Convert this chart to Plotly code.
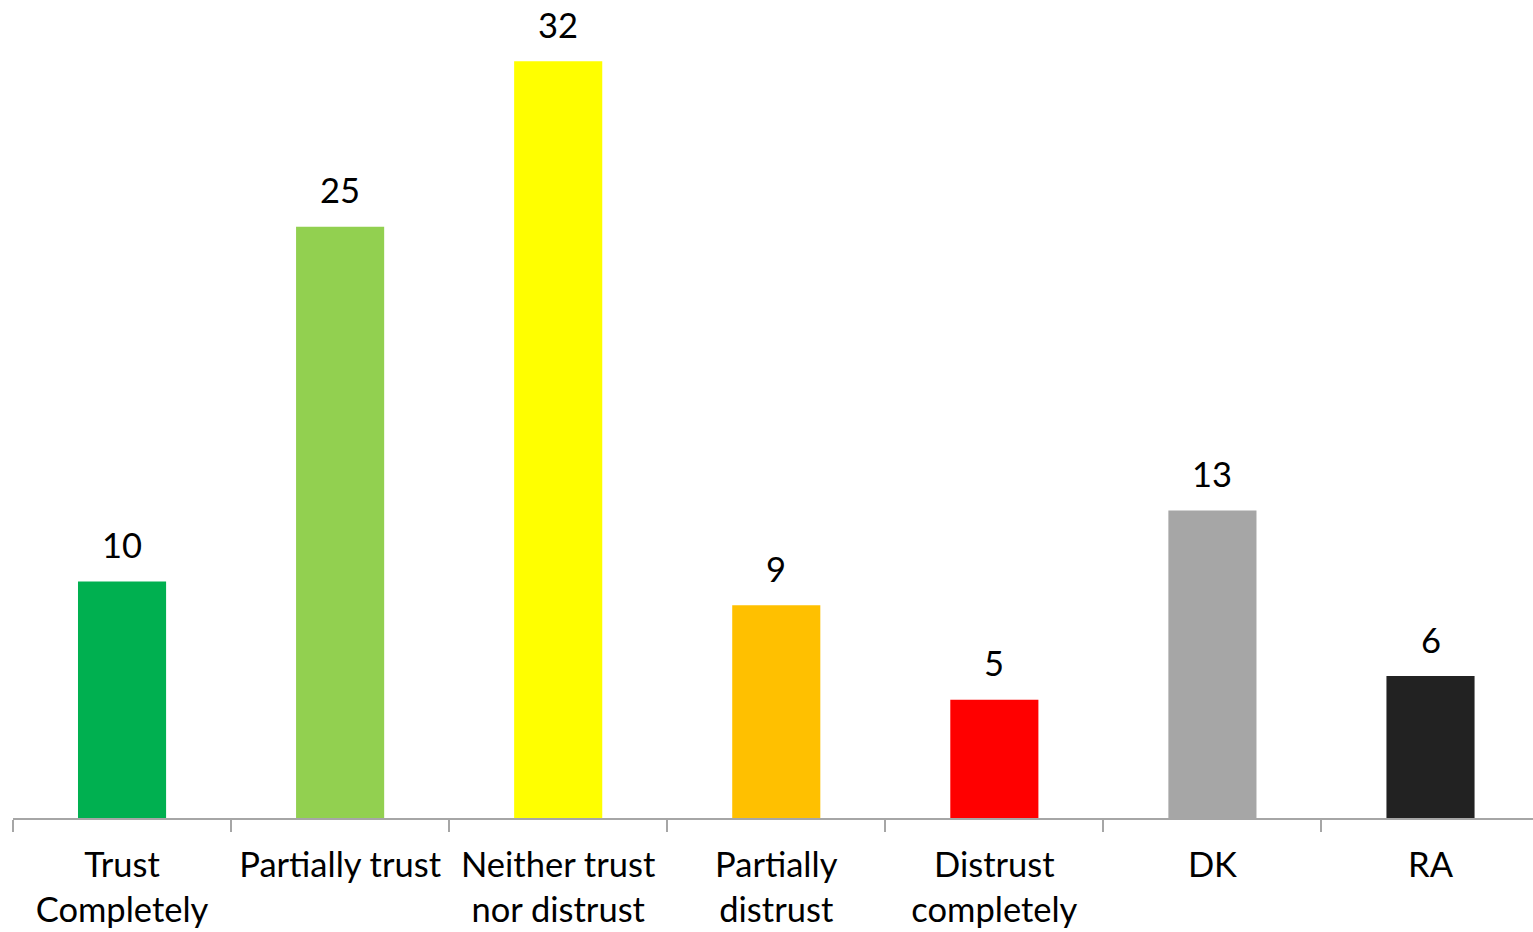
import plotly.graph_objects as go

# Survey responses: level of trust (percent)
categories = ["Trust<br>Completely", "Partially trust", "Neither trust<br>nor distrust",
              "Partially<br>distrust", "Distrust<br>completely", "DK", "RA"]
values = [10, 25, 32, 9, 5, 13, 6]
colors = ["#00B050", "#92D050", "#FFFF00", "#FFC000", "#FF0000", "#A6A6A6", "#222222"]

FONT = "Lato"
FONT_SIZE = 34.5

fig = go.Figure(
    go.Bar(
        x=categories,
        y=values,
        marker=dict(color=colors, line=dict(width=0)),
        width=0.404,
        hoverinfo="skip",
    )
)

# value labels above each bar
for cat, v in zip(categories, values):
    fig.add_annotation(
        x=cat, y=v, text=str(v), showarrow=False,
        yanchor="middle", yshift=37,
        font=dict(family=FONT, size=FONT_SIZE, color="#000000"),
    )

fig.update_layout(
    width=1533, height=932,
    margin=dict(l=13, r=0, t=14, b=114),
    paper_bgcolor="white", plot_bgcolor="white",
    showlegend=False,
    font=dict(family=FONT, size=FONT_SIZE, color="#000000"),
)
fig.update_xaxes(
    type="category",
    range=[-0.5, 6.47],
    tickson="boundaries",
    showline=True, linecolor="#A6A6A6", linewidth=2,
    ticks="outside", ticklen=12, tickcolor="#A6A6A6", tickwidth=2,
    ticklabelstandoff=16,
    showgrid=False, zeroline=False,
    tickfont=dict(family=FONT, size=FONT_SIZE, color="#000000"),
)
fig.update_yaxes(
    range=[0, 34], visible=False, showgrid=False, zeroline=False,
)

fig.write_html("out.html")
